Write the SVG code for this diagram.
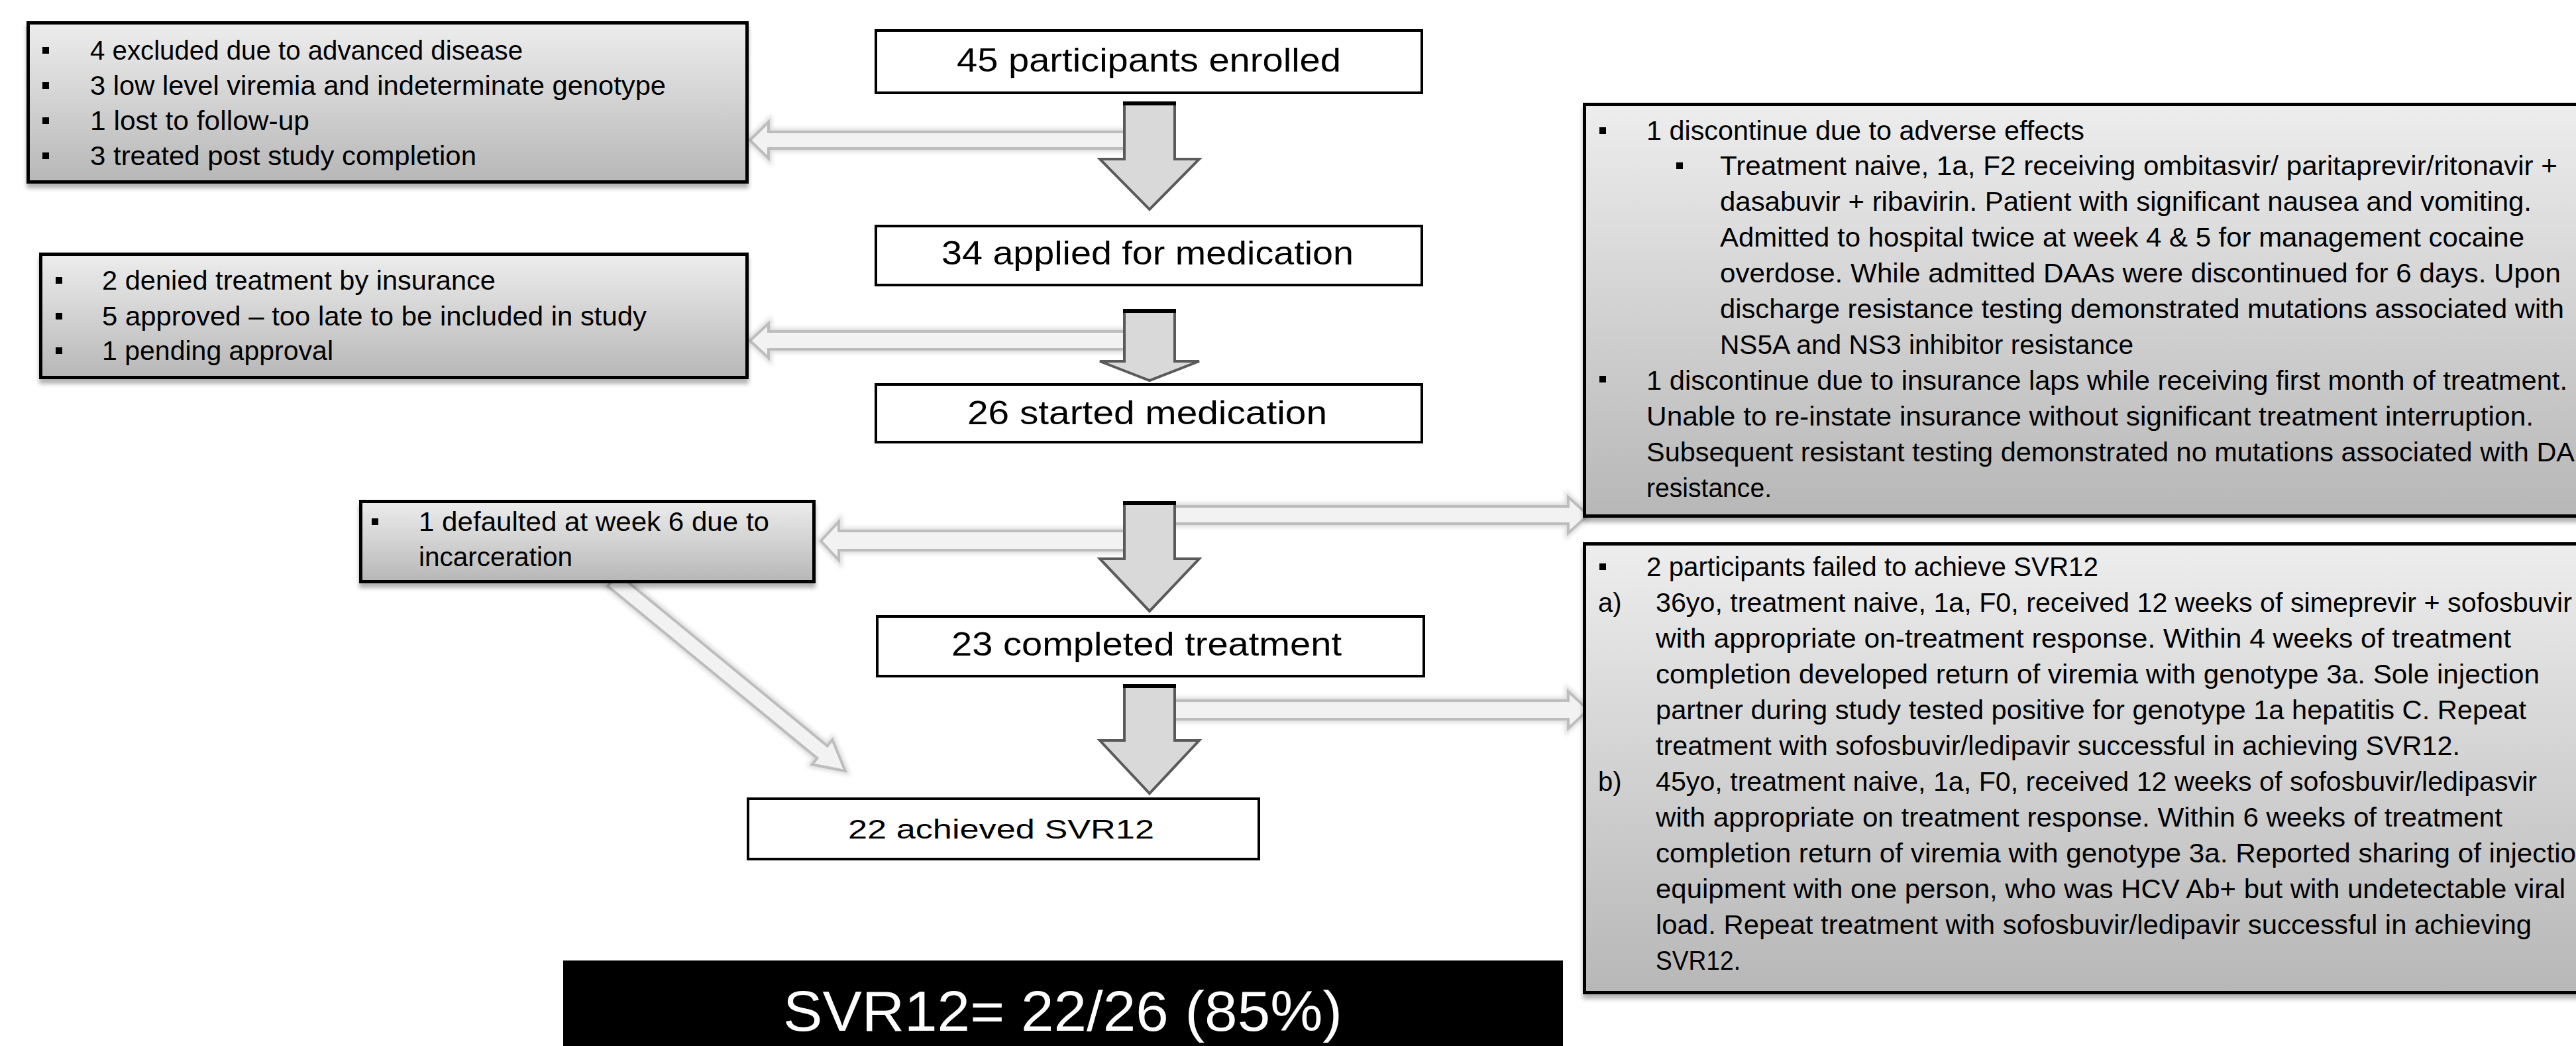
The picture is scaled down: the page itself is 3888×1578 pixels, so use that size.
<svg xmlns="http://www.w3.org/2000/svg" width="3888" height="1578" viewBox="0 0 3888 1578">
<defs>
<linearGradient id="g" x1="0" y1="0" x2="0" y2="1">
<stop offset="0" stop-color="#ededed"/>
<stop offset="1" stop-color="#b7b7b7"/>
</linearGradient>
<filter id="sh" x="-5%" y="-5%" width="110%" height="125%">
<feDropShadow dx="0" dy="7" stdDeviation="3" flood-color="#000" flood-opacity="0.3"/>
</filter>
<filter id="glow" x="-10%" y="-50%" width="120%" height="200%">
<feGaussianBlur stdDeviation="3"/>
</filter>
</defs>
<style>
.box{fill:#fff;stroke:#000;stroke-width:4}
.gbox{fill:url(#g);stroke:#000;stroke-width:5;filter:url(#sh)}
.t{font-family:"Liberation Sans",Arial,sans-serif;font-size:40px;fill:#000}
.c{font-size:50px}
.w{fill:#fff;font-size:86px}
.bul{fill:#000}
.down{fill:#d9d9d9;stroke:#5a5a5a;stroke-width:4;stroke-linejoin:miter}
.top{stroke:#000;stroke-width:6}
.hollow{fill:#f2f2f2;stroke:#bdbdbd;stroke-width:4}
.glw{fill:none;stroke:#dcdcdc;stroke-width:10;filter:url(#glow)}
</style>
<rect width="3888" height="1578" fill="#fff"/>

<g id="connectors">
<g id="hollow-arrows">
<polygon class="glw" points="1720,199 1160,199 1160,184 1132,211.5 1160,239 1160,224 1720,224"/>
<polygon class="hollow" points="1720,199 1160,199 1160,184 1132,211.5 1160,239 1160,224 1720,224"/>
<polygon class="glw" points="1720,500 1160,500 1160,488 1132,514 1160,540 1160,527 1720,527"/>
<polygon class="hollow" points="1720,500 1160,500 1160,488 1132,514 1160,540 1160,527 1720,527"/>
<polygon class="glw" points="1720,801 1266,801 1266,787 1239,816 1266,845 1266,830 1720,830"/>
<polygon class="hollow" points="1720,801 1266,801 1266,787 1239,816 1266,845 1266,830 1720,830"/>
<polygon class="glw" points="1750,764 2367,764 2367,750 2397,777 2367,804 2367,790 1750,790"/>
<polygon class="hollow" points="1750,764 2367,764 2367,750 2397,777 2367,804 2367,790 1750,790"/>
<polygon class="glw" points="1750,1057 2367,1057 2367,1043 2397,1071 2367,1099 2367,1085 1750,1085"/>
<polygon class="hollow" points="1750,1057 2367,1057 2367,1043 2397,1071 2367,1099 2367,1085 1750,1085"/>
<g transform="translate(925,875) rotate(39.4)">
<polygon class="glw" points="0,-12 409,-12 409,-24 454,0 409,24 409,12 0,12"/>
<polygon class="hollow" points="0,-12 409,-12 409,-24 454,0 409,24 409,12 0,12"/>
</g>
</g>
<g id="down-arrows">
<polygon class="down" points="1697,155 1773,155 1773,240 1810,240 1735,316 1660,240 1697,240"/>
<line class="top" x1="1695" y1="156" x2="1775" y2="156"/>
<polygon class="down" points="1697,468 1773,468 1773,545 1810,545 1735,574 1660,545 1697,545"/>
<line class="top" x1="1695" y1="469" x2="1775" y2="469"/>
<polygon class="down" points="1697,758 1773,758 1773,843 1810,843 1735,922 1660,843 1697,843"/>
<line class="top" x1="1695" y1="759" x2="1775" y2="759"/>
<polygon class="down" points="1697,1034 1773,1034 1773,1117 1810,1117 1735,1197 1660,1117 1697,1117"/>
<line class="top" x1="1695" y1="1035" x2="1775" y2="1035"/>
</g>
</g>

<g id="n1">
<rect class="box" x="1322" y="46" width="824" height="94"/>
<text class="t c" x="1444" y="108" textLength="580" lengthAdjust="spacingAndGlyphs">45 participants enrolled</text>
</g>
<g id="n2">
<rect class="box" x="1322" y="341" width="824" height="89"/>
<text class="t c" x="1421" y="399" textLength="622" lengthAdjust="spacingAndGlyphs">34 applied for medication</text>
</g>
<g id="n3">
<rect class="box" x="1322" y="580" width="824" height="87"/>
<text class="t c" x="1460" y="640" textLength="543" lengthAdjust="spacingAndGlyphs">26 started medication</text>
</g>
<g id="n4">
<rect class="box" x="1324" y="930" width="825" height="90"/>
<text class="t c" x="1436" y="989" textLength="589" lengthAdjust="spacingAndGlyphs">23 completed treatment</text>
</g>
<g id="n5">
<rect class="box" x="1129" y="1205" width="771" height="91"/>
<text class="t" x="1280" y="1265" font-size="52" textLength="462" lengthAdjust="spacingAndGlyphs">22 achieved SVR12</text>
</g>

<g id="excl1">
<rect class="gbox" x="42.5" y="34.5" width="1085" height="240"/>
<rect class="bul" x="64" y="71" width="10" height="10"/>
<rect class="bul" x="64" y="124" width="10" height="10"/>
<rect class="bul" x="64" y="177" width="10" height="10"/>
<rect class="bul" x="64" y="230" width="10" height="10"/>
<text class="t" x="136" y="90" textLength="653" lengthAdjust="spacingAndGlyphs">4 excluded due to advanced  disease</text>
<text class="t" x="136" y="143" textLength="869" lengthAdjust="spacingAndGlyphs">3 low level viremia  and indeterminate  genotype</text>
<text class="t" x="136" y="196" textLength="331" lengthAdjust="spacingAndGlyphs">1 lost to follow-up</text>
<text class="t" x="136" y="249" textLength="583" lengthAdjust="spacingAndGlyphs">3 treated  post study completion</text>
</g>

<g id="excl2">
<rect class="gbox" x="61.5" y="383.5" width="1066" height="186"/>
<rect class="bul" x="84" y="418" width="10" height="10"/>
<rect class="bul" x="84" y="472" width="10" height="10"/>
<rect class="bul" x="84" y="524" width="10" height="10"/>
<text class="t" x="154" y="437" textLength="594" lengthAdjust="spacingAndGlyphs">2 denied treatment  by insurance</text>
<text class="t" x="154" y="491" textLength="822" lengthAdjust="spacingAndGlyphs">5 approved – too late to be included in study</text>
<text class="t" x="154" y="543" textLength="349" lengthAdjust="spacingAndGlyphs">1 pending approval</text>
</g>

<g id="excl3">
<rect class="gbox" x="544.5" y="756.5" width="684" height="121"/>
<rect class="bul" x="561" y="782" width="10" height="10"/>
<text class="t" x="632" y="801" textLength="529" lengthAdjust="spacingAndGlyphs">1 defaulted at week  6 due to</text>
<text class="t" x="632" y="854" textLength="232" lengthAdjust="spacingAndGlyphs">incarceration</text>
</g>

<g id="disc">
<rect class="gbox" x="2391.5" y="157.5" width="1520" height="621"/>
<rect class="bul" x="2414" y="192" width="10" height="10"/>
<rect class="bul" x="2530" y="245" width="10" height="10"/>
<rect class="bul" x="2414" y="567" width="10" height="10"/>
<text class="t" x="2485" y="211" textLength="661" lengthAdjust="spacingAndGlyphs">1 discontinue due to adverse  effects</text>
<text class="t" x="2596" y="264" textLength="1264" lengthAdjust="spacingAndGlyphs">Treatment  naive, 1a, F2 receiving  ombitasvir/ paritaprevir/ritonavir  +</text>
<text class="t" x="2596" y="318" textLength="1225" lengthAdjust="spacingAndGlyphs">dasabuvir + ribavirin.  Patient with significant nausea and vomiting.</text>
<text class="t" x="2596" y="372" textLength="1214" lengthAdjust="spacingAndGlyphs">Admitted  to hospital twice  at week  4 &amp; 5 for management  cocaine</text>
<text class="t" x="2596" y="426" textLength="1269" lengthAdjust="spacingAndGlyphs">overdose.  While  admitted  DAAs were  discontinued for 6 days.  Upon</text>
<text class="t" x="2596" y="480" textLength="1274" lengthAdjust="spacingAndGlyphs">discharge resistance  testing demonstrated  mutations associated with</text>
<text class="t" x="2596" y="534" textLength="624" lengthAdjust="spacingAndGlyphs">NS5A and NS3 inhibitor resistance</text>
<text class="t" x="2485" y="588" textLength="1390" lengthAdjust="spacingAndGlyphs">1 discontinue due to insurance laps while  receiving  first month of treatment.</text>
<text class="t" x="2485" y="642" textLength="1339" lengthAdjust="spacingAndGlyphs">Unable to re-instate  insurance without significant treatment  interruption.</text>
<text class="t" x="2485" y="696" textLength="1401" lengthAdjust="spacingAndGlyphs">Subsequent resistant testing demonstrated  no mutations associated with  DA</text>
<text class="t" x="2485" y="750" textLength="189" lengthAdjust="spacingAndGlyphs">resistance.</text>
</g>

<g id="fail">
<rect class="gbox" x="2391.5" y="820.5" width="1520" height="677"/>
<rect class="bul" x="2414" y="850" width="10" height="10"/>
<text class="t" x="2485" y="869" textLength="682" lengthAdjust="spacingAndGlyphs">2 participants  failed to achieve  SVR12</text>
<text class="t" x="2412" y="923">a)</text>
<text class="t" x="2499" y="923" textLength="1383" lengthAdjust="spacingAndGlyphs">36yo, treatment  naive, 1a, F0, received  12 weeks of simeprevir  + sofosbuvir</text>
<text class="t" x="2499" y="977" textLength="1291" lengthAdjust="spacingAndGlyphs">with appropriate  on-treatment  response.  Within 4 weeks  of treatment</text>
<text class="t" x="2499" y="1031" textLength="1334" lengthAdjust="spacingAndGlyphs">completion developed  return of viremia  with genotype  3a.  Sole injection</text>
<text class="t" x="2499" y="1085" textLength="1314" lengthAdjust="spacingAndGlyphs">partner  during study tested  positive for genotype  1a hepatitis  C.  Repeat</text>
<text class="t" x="2499" y="1139" textLength="1214" lengthAdjust="spacingAndGlyphs">treatment  with sofosbuvir/ledipavir  successful in achieving SVR12.</text>
<text class="t" x="2412" y="1193">b)</text>
<text class="t" x="2499" y="1193" textLength="1330" lengthAdjust="spacingAndGlyphs">45yo, treatment  naive, 1a, F0, received  12 weeks of sofosbuvir/ledipasvir</text>
<text class="t" x="2499" y="1247" textLength="1278" lengthAdjust="spacingAndGlyphs">with appropriate  on treatment  response. Within 6 weeks  of treatment</text>
<text class="t" x="2499" y="1301" textLength="1389" lengthAdjust="spacingAndGlyphs">completion return of viremia  with genotype  3a. Reported sharing of injectio</text>
<text class="t" x="2499" y="1355" textLength="1373" lengthAdjust="spacingAndGlyphs">equipment  with one person,  who was HCV Ab+ but with undetectable  viral</text>
<text class="t" x="2499" y="1409" textLength="1322" lengthAdjust="spacingAndGlyphs">load.  Repeat  treatment  with sofosbuvir/ledipavir successful in achieving</text>
<text class="t" x="2499" y="1463" textLength="128" lengthAdjust="spacingAndGlyphs">SVR12.</text>
</g>

<g id="summary">
<rect x="850" y="1449" width="1509" height="135" fill="#000"/>
<text class="t w" x="1182" y="1555" textLength="844" lengthAdjust="spacingAndGlyphs">SVR12= 22/26 (85%)</text>
</g>
</svg>
